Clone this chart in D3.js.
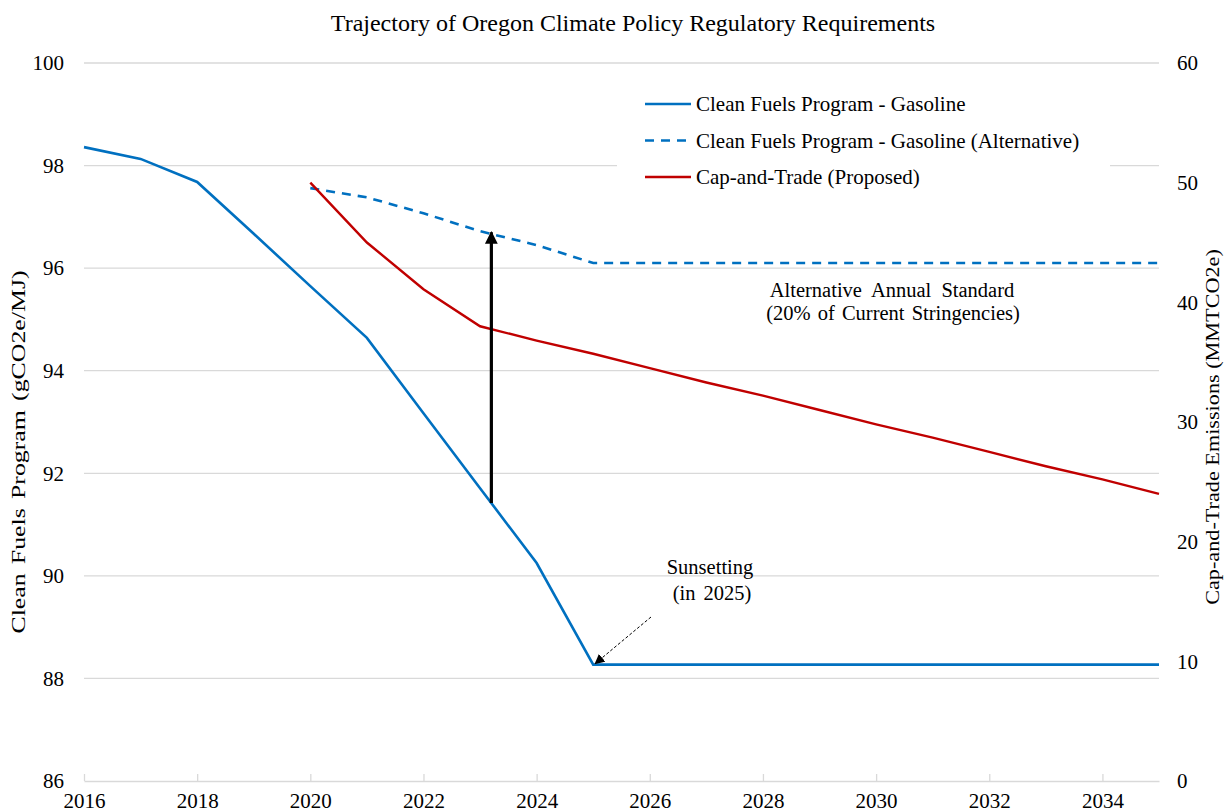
<!DOCTYPE html>
<meta charset="utf-8">
<script src="https://d3js.org/d3.v7.min.js"></script>
<head>
  <style>
  body { margin: 0; background: #fff; }
  text { font-family: "Liberation Serif", "Times New Roman", serif; fill: #000; }
  </style>
</head>
<body>
<div id="my_dataviz"></div>
<script>

  // data
  var cfpYears = [2016, 2017, 2018, 2019, 2020, 2021, 2022, 2023, 2024, 2025, 2026, 2027, 2028, 2029, 2030, 2031, 2032, 2033, 2034, 2035]
  var cfpValues = [98.36, 98.13, 97.68, 96.67, 95.65, 94.64, 93.17, 91.71, 90.25, 88.27, 88.27, 88.27, 88.27, 88.27, 88.27, 88.27, 88.27, 88.27, 88.27, 88.27]

  var altYears = [2020, 2021, 2022, 2023, 2024, 2025, 2026, 2027, 2028, 2029, 2030, 2031, 2032, 2033, 2034, 2035]
  var altValues = [97.56, 97.38, 97.07, 96.72, 96.45, 96.10, 96.10, 96.10, 96.10, 96.10, 96.10, 96.10, 96.10, 96.10, 96.10, 96.10]

  var ctYears = [2020, 2021, 2022, 2023, 2024, 2025, 2026, 2027, 2028, 2029, 2030, 2031, 2032, 2033, 2034, 2035]
  var ctValues = [50.0, 45.0, 41.1, 38.0, 36.8, 35.7, 34.5, 33.3, 32.2, 31.0, 29.8, 28.7, 27.5, 26.3, 25.2, 24.0]

  var xTicks = [2016, 2018, 2020, 2022, 2024, 2026, 2028, 2030, 2032, 2034]
  var leftTicks = [86, 88, 90, 92, 94, 96, 98, 100]
  var rightTicks = [0, 10, 20, 30, 40, 50, 60]

  var seriesNames = ["Clean Fuels Program - Gasoline", "Clean Fuels Program - Gasoline (Alternative)", "Cap-and-Trade (Proposed)"]

  var width = 1224
      height = 812
      margin = {top: 63, right: 65, bottom: 31, left: 84}

  var blue = "#0070C0", red = "#C00000", grid = "#d9d9d9"

  var svg = d3.select("#my_dataviz")
    .append("svg")
    .attr("width", width)
    .attr("height", height)

  var x = d3.scaleLinear().domain([2016, 2035]).range([margin.left, width - margin.right])
  var yL = d3.scaleLinear().domain([86, 100]).range([height - margin.bottom, margin.top])
  var yR = d3.scaleLinear().domain([0, 60]).range([height - margin.bottom, margin.top])

  // gridlines (left axis)
  svg.append("g")
    .selectAll("line")
    .data(leftTicks.slice(1))
    .enter()
    .append("line")
    .attr("x1", x(2016)).attr("x2", x(2035))
    .attr("y1", function(d) { return yL(d) }).attr("y2", function(d) { return yL(d) })
    .attr("stroke", grid).attr("stroke-width", 1.3)

  // x axis with ticks pointing up
  var xAxis = svg.append("g")
    .attr("transform", "translate(0," + yL(86) + ")")
    .call(d3.axisBottom(x).tickValues(xTicks).tickFormat(d3.format("d")).tickSizeInner(-7).tickSizeOuter(0))
  xAxis.select(".domain").attr("stroke", grid).attr("stroke-width", 1.3)
  xAxis.selectAll(".tick line").attr("stroke", grid).attr("stroke-width", 1.3)
  xAxis.selectAll(".tick text").attr("y", 12).style("font-size", "21px")

  // left axis
  var lAxis = svg.append("g")
    .attr("transform", "translate(" + (margin.left - 17) + ",0)")
    .call(d3.axisLeft(yL).tickValues(leftTicks).tickSize(0))
  lAxis.select(".domain").remove()
  lAxis.selectAll(".tick text").style("font-size", "21px")

  // right axis
  var rAxis = svg.append("g")
    .attr("transform", "translate(" + (width - margin.right + 15) + ",0)")
    .call(d3.axisRight(yR).tickValues(rightTicks).tickSize(0))
  rAxis.select(".domain").remove()
  rAxis.selectAll(".tick text").style("font-size", "21px")

  // legend background hides the gridline
  svg.append("rect")
    .attr("x", 617).attr("y", 82).attr("width", 493).attr("height", 112)
    .attr("fill", "white")

  var line = function(ys) {
    return d3.line().x(function(d) { return x(d[0]) }).y(function(d) { return ys(d[1]) })
  }

  svg.append("path")
    .attr("d", line(yL)(d3.zip(cfpYears, cfpValues)))
    .attr("fill", "none").attr("stroke", blue).attr("stroke-width", 2.6)

  svg.append("path")
    .attr("d", line(yL)(d3.zip(altYears, altValues)))
    .attr("fill", "none").attr("stroke", blue).attr("stroke-width", 2.6)
    .attr("stroke-dasharray", "9,7")

  svg.append("path")
    .attr("d", line(yR)(d3.zip(ctYears, ctValues)))
    .attr("fill", "none").attr("stroke", red).attr("stroke-width", 2.4)

  // arrowheads
  var defs = svg.append("defs")
  defs.append("marker")
    .attr("id", "bigArrow").attr("viewBox", "0 0 10 10").attr("refX", 9).attr("refY", 5)
    .attr("markerWidth", 4).attr("markerHeight", 4.5).attr("markerUnits", "strokeWidth")
    .attr("orient", "auto")
    .append("path").attr("d", "M0,0 L10,5 L0,10 z").attr("fill", "black")
  defs.append("marker")
    .attr("id", "smallArrow").attr("viewBox", "0 0 10 10").attr("refX", 9).attr("refY", 5)
    .attr("markerWidth", 10).attr("markerHeight", 10).attr("markerUnits", "userSpaceOnUse")
    .attr("orient", "auto")
    .append("path").attr("d", "M0,0 L10,5 L0,10 z").attr("fill", "black")

  // gap arrow between the standard and the alternative
  svg.append("line")
    .attr("x1", x(2023.2)).attr("x2", x(2023.2))
    .attr("y1", yL(91.42)).attr("y2", yL(96.70))
    .attr("stroke", "black").attr("stroke-width", 3.2)
    .attr("marker-end", "url(#bigArrow)")

  // sunsetting pointer
  svg.append("line")
    .attr("x1", 651).attr("y1", 617)
    .attr("x2", x(2025) + 2).attr("y2", yL(88.27) - 1)
    .attr("stroke", "black").attr("stroke-width", 1).attr("stroke-dasharray", "3,2")
    .attr("marker-end", "url(#smallArrow)")

  var note = svg.append("g").style("font-size", "20.5px").attr("text-anchor", "middle")
  note.append("text").attr("x", 710).attr("y", 574).text("Sunsetting")
  note.append("text").attr("x", 712).attr("y", 600).text("(in 2025)").style("word-spacing", "3px")
  note.append("text").attr("x", 892).attr("y", 297).text("Alternative Annual Standard").style("word-spacing", "5px")
  note.append("text").attr("x", 893).attr("y", 320).text("(20% of Current Stringencies)").style("word-spacing", "2px")

  // legend
  var legend = svg.append("g")
  var legendStyles = [{c: blue, dash: null}, {c: blue, dash: "9,7"}, {c: red, dash: null}]
  seriesNames.forEach(function(name, i) {
    var ly = 104 + i * 36.5
    legend.append("line")
      .attr("x1", 645).attr("x2", 691).attr("y1", ly).attr("y2", ly)
      .attr("stroke", legendStyles[i].c).attr("stroke-width", 2.6)
      .attr("stroke-dasharray", legendStyles[i].dash)
    legend.append("text")
      .attr("x", 696).attr("y", ly + 7)
      .style("font-size", "21px")
      .text(name)
  })

  // title and axis titles
  svg.append("text")
    .attr("x", 633).attr("y", 31)
    .attr("text-anchor", "middle")
    .style("font-size", "24px")
    .text("Trajectory of Oregon Climate Policy Regulatory Requirements")

  // axis titles are stretched along their length in the reference
  svg.append("text")
    .attr("transform", "translate(25,452) rotate(-90) scale(1.36,1)")
    .attr("text-anchor", "middle")
    .style("font-size", "19px")
    .style("word-spacing", "2px")
    .text("Clean Fuels Program (gCO2e/MJ)")

  svg.append("text")
    .attr("transform", "translate(1219,427) rotate(-90) scale(1.17,1)")
    .attr("text-anchor", "middle")
    .style("font-size", "19px")
    .text("Cap-and-Trade Emissions (MMTCO2e)")

</script>
</body>
